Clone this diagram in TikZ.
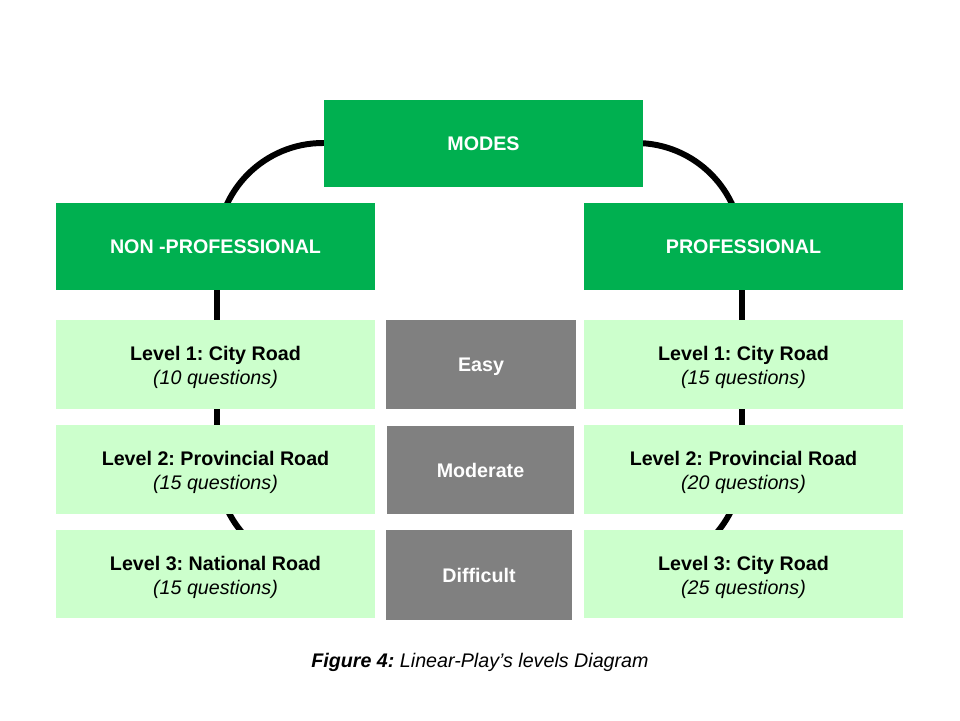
\documentclass[tikz,border=0pt]{standalone}
\usepackage{fontspec}
\setmainfont{Liberation Sans}
\frenchspacing
\definecolor{dkgreen}{HTML}{00B050}
\definecolor{ltgreen}{HTML}{CCFFCC}
\definecolor{midgray}{HTML}{808080}
\begin{document}
\begin{tikzpicture}[x=0.02cm,y=-0.02cm,
  txt/.style={font=\fontsize{11.2}{13.6}\selectfont\bfseries, align=center, inner sep=0pt},
  oneline/.style={txt, text height=8pt, text depth=0pt},
  headbox/.style={oneline, fill=dkgreen, text=white, minimum width=6.38cm, minimum height=1.76cm},
  levelbox/.style={fill=ltgreen, inner sep=0pt, minimum width=6.38cm, minimum height=1.78cm},
  leveltext/.style={txt, text=black},
  diffbox/.style={oneline, fill=midgray, text=white},
  ringline/.style={line width=3.4pt, rounded corners=2.12cm}]
\useasboundingbox (0,0) rectangle (960,720);
\fill[white] (0,0) rectangle (960,720);
% background ring (open at the bottom, ends hidden behind level 3 boxes)
\coordinate (ringL) at (323,570);
\coordinate (ringR) at (636,570);
\draw[ringline] (ringL) -- (217,570) -- (217,143) -- (742,143) -- (742,570) -- (ringR);
% headers
\node[headbox] (modes) at (483.5,143.5) {MODES};
\node[headbox] (nonpro) at (215.5,246.5) {NON -PROFESSIONAL};
\node[headbox] (pro) at (743.5,246.5) {PROFESSIONAL};
% left levels
\node[levelbox] (l1) at (215.5,364.5) {};
\node[levelbox] (l2) at (215.5,469.5) {};
\node[levelbox] (l3) at (215.5,574) {};
% right levels
\node[levelbox] (r1) at (743.5,364.5) {};
\node[levelbox] (r2) at (743.5,469.5) {};
\node[levelbox] (r3) at (743.5,574) {};
\node[leveltext] (l1t) at ([yshift=-1.7pt]l1.center) {Level 1: City Road\\\mdseries\itshape (10 questions)};
\node[leveltext] (l2t) at ([yshift=-1.7pt]l2.center) {Level 2: Provincial Road\\\mdseries\itshape (15 questions)};
\node[leveltext] (l3t) at ([yshift=-1.7pt]l3.center) {Level 3: National Road\\\mdseries\itshape (15 questions)};
\node[leveltext] (r1t) at ([yshift=-1.7pt]r1.center) {Level 1: City Road\\\mdseries\itshape (15 questions)};
\node[leveltext] (r2t) at ([yshift=-1.7pt]r2.center) {Level 2: Provincial Road\\\mdseries\itshape (20 questions)};
\node[leveltext] (r3t) at ([yshift=-1.7pt]r3.center) {Level 3: City Road\\\mdseries\itshape (25 questions)};
% difficulty
\node[diffbox, minimum width=3.82cm, minimum height=1.78cm] (easy) at (481,364.5) {Easy};
\node[diffbox, minimum width=3.74cm, minimum height=1.76cm] (moderate) at (480.5,470) {Moderate};
\node[diffbox, minimum width=3.72cm, minimum height=1.80cm] (difficult) at (479,575) {Difficult};
% caption
\node[font=\fontsize{11.2}{13.6}\selectfont\itshape, inner sep=0pt] (caption) at (480,662) {\textbf{Figure 4:} Linear-Play’s levels Diagram};
\end{tikzpicture}
\end{document}
